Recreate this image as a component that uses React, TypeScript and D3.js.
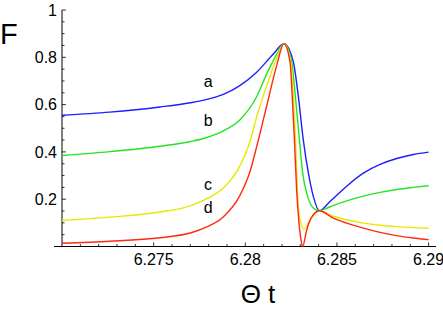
import React, { useRef, useEffect } from "react";
import * as d3 from "d3";

// curve samples: theta and F for each curve
const thetaA = [6.27, 6.2726, 6.27535, 6.277, 6.2779, 6.2788, 6.2797, 6.28062, 6.28153, 6.28211, 6.28262, 6.28289, 6.28316, 6.28344, 6.28371, 6.28404, 6.28462, 6.28553, 6.28644, 6.28735, 6.28826, 6.28917, 6.29];
const valuesA = [0.555, 0.568, 0.59, 0.608, 0.622, 0.643, 0.68, 0.737, 0.814, 0.857, 0.78, 0.637, 0.453, 0.311, 0.212, 0.151, 0.19, 0.255, 0.31, 0.347, 0.372, 0.389, 0.399];

const thetaB = [6.27, 6.2726, 6.27535, 6.277, 6.2779, 6.2788, 6.2797, 6.28062, 6.28117, 6.28171, 6.28211, 6.28253, 6.28273, 6.28295, 6.28313, 6.2834, 6.28371, 6.28404, 6.28462, 6.28553, 6.28644, 6.28735, 6.28826, 6.28917, 6.29];
const valuesB = [0.385, 0.401, 0.424, 0.444, 0.461, 0.489, 0.535, 0.633, 0.73, 0.812, 0.857, 0.78, 0.637, 0.453, 0.311, 0.212, 0.163, 0.151, 0.168, 0.193, 0.213, 0.229, 0.241, 0.25, 0.257];

const thetaC = [6.27, 6.2726, 6.27535, 6.277, 6.2779, 6.2788, 6.2797, 6.28026, 6.28062, 6.28117, 6.28171, 6.28211, 6.28248, 6.28262, 6.28274, 6.28284, 6.28295, 6.2832, 6.28353, 6.2838, 6.28404, 6.2848, 6.28553, 6.28644, 6.28735, 6.28826, 6.29];
const valuesC = [0.11, 0.124, 0.146, 0.172, 0.202, 0.247, 0.34, 0.445, 0.548, 0.68, 0.795, 0.857, 0.78, 0.637, 0.453, 0.24, 0.127, 0.073, 0.113, 0.138, 0.151, 0.128, 0.113, 0.099, 0.09, 0.084, 0.077];

const thetaD = [6.27, 6.2726, 6.27535, 6.277, 6.2779, 6.2788, 6.2797, 6.28026, 6.28062, 6.28117, 6.28171, 6.28211, 6.28244, 6.28256, 6.28268, 6.2828, 6.28293, 6.28304, 6.28313, 6.28335, 6.28362, 6.28404, 6.2848, 6.28553, 6.28644, 6.28735, 6.28826, 6.28917, 6.29];
const valuesD = [0.014, 0.022, 0.037, 0.057, 0.083, 0.125, 0.215, 0.318, 0.422, 0.595, 0.765, 0.857, 0.78, 0.637, 0.453, 0.24, 0.099, 0.028, 0.0, 0.07, 0.124, 0.151, 0.12, 0.099, 0.078, 0.06, 0.046, 0.036, 0.029];

const curveNames = ["a", "b", "c", "d"];
const curveColors = ["#1e1eff", "#22e622", "#e8e800", "#ff2a10"];
// label anchors, in data coordinates
const labelTheta = [6.27797, 6.27797, 6.27797, 6.27797];
const labelF = [0.674, 0.511, 0.239, 0.143];

const xMajorTicks = [6.275, 6.28, 6.285, 6.29];
const yMajorTicks = [0.2, 0.4, 0.6, 0.8, 1];

function App() {
  const svgRef = useRef<SVGSVGElement>(null);

  useEffect(() => {
    const svg = d3.select(svgRef.current);
    svg.selectAll("*").remove();

    const x = d3.scaleLinear().domain([6.27, 6.29]).range([62, 428.6]);
    const y = d3.scaleLinear().domain([0, 1]).range([246.5, 10]);

    const font = "'Liberation Sans', Arial, sans-serif";

    // axes lines
    svg.append("line")
      .attr("x1", 54).attr("x2", 436)
      .attr("y1", y(0)).attr("y2", y(0))
      .attr("stroke", "#000").attr("stroke-width", 1);
    svg.append("line")
      .attr("x1", x(6.27)).attr("x2", x(6.27))
      .attr("y1", y(0)).attr("y2", y(1))
      .attr("stroke", "#000").attr("stroke-width", 1);

    // x ticks, major every 0.005, minor every 0.001
    const xMinor = d3.range(1, 21).map(i => 6.27 + i * 0.001);
    svg.selectAll(".xtick")
      .data(xMinor)
      .join("line")
      .attr("class", "xtick")
      .attr("x1", d => x(d)).attr("x2", d => x(d))
      .attr("y1", y(0))
      .attr("y2", (d, i) => y(0) - ((i + 1) % 5 === 0 ? 4 : 2.5))
      .attr("stroke", "#000").attr("stroke-width", 0.8);

    svg.selectAll(".xlabel")
      .data(xMajorTicks)
      .join("text")
      .attr("class", "xlabel")
      .attr("x", d => x(d))
      .attr("y", 265)
      .attr("text-anchor", "middle")
      .attr("font-family", font)
      .attr("font-size", 16)
      .text(d => String(+d.toFixed(3)));

    // y ticks, major every 0.2, minor every 0.05
    const yMinor = d3.range(1, 21).map(i => i * 0.05);
    svg.selectAll(".ytick")
      .data(yMinor)
      .join("line")
      .attr("class", "ytick")
      .attr("x1", x(6.27))
      .attr("x2", (d, i) => x(6.27) + ((i + 1) % 4 === 0 ? 4 : 2.5))
      .attr("y1", d => y(d)).attr("y2", d => y(d))
      .attr("stroke", "#000").attr("stroke-width", 0.8);

    svg.selectAll(".ylabel")
      .data(yMajorTicks)
      .join("text")
      .attr("class", "ylabel")
      .attr("x", 57)
      .attr("y", d => y(d))
      .attr("dy", "0.36em")
      .attr("text-anchor", "end")
      .attr("font-family", font)
      .attr("font-size", 16)
      .text(d => String(d));

    // curves
    const thetas = [thetaA, thetaB, thetaC, thetaD];
    const values = [valuesA, valuesB, valuesC, valuesD];
    const line = d3.line<[number, number]>()
      .x(d => x(d[0]))
      .y(d => y(d[1]))
      .curve(d3.curveMonotoneX);

    thetas.forEach((ts, k) => {
      const pts = ts.map((t, i) => [t, values[k][i]] as [number, number]);
      svg.append("path")
        .attr("d", line(pts))
        .attr("fill", "none")
        .attr("stroke", curveColors[k])
        .attr("stroke-width", 1.4);
    });

    svg.selectAll(".clabel")
      .data(curveNames)
      .join("text")
      .attr("class", "clabel")
      .attr("x", (d, i) => x(labelTheta[i]))
      .attr("y", (d, i) => y(labelF[i]))
      .attr("text-anchor", "middle")
      .attr("font-family", font)
      .attr("font-size", 16)
      .text(d => d);

    // axis titles
    svg.append("text")
      .attr("x", 0).attr("y", 44)
      .attr("font-family", font)
      .attr("font-size", 29)
      .text("F");
    svg.append("text")
      .attr("x", 258).attr("y", 303)
      .attr("text-anchor", "middle")
      .attr("font-family", font)
      .attr("font-size", 26)
      .text("Θ t");
  }, []);

  return (
    <div style={{ position: "absolute", left: 0, top: 0 }}>
      <svg ref={svgRef} width={443} height={315} style={{ display: "block", background: "#fff" }}></svg>
    </div>
  );
}

export default App;
